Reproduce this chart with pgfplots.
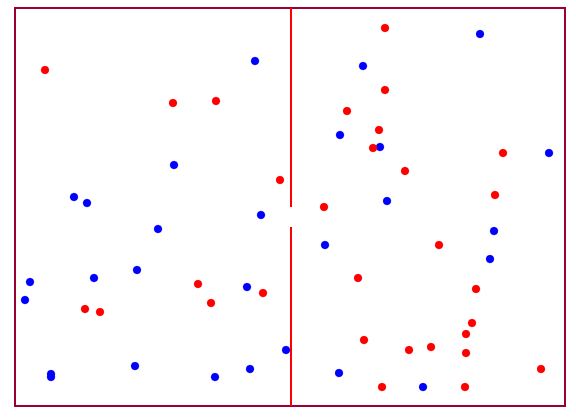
\documentclass[border=0pt]{standalone}
\usepackage{pgfplots}
\pgfplotsset{compat=1.18}
\definecolor{framecol}{RGB}{153,0,51}
\definecolor{dotred}{RGB}{255,0,0}
\definecolor{dotblue}{RGB}{0,0,255}

\begin{document}
\begin{tikzpicture}[x=1bp,y=1bp]
\begin{axis}[
  at={(15bp,13bp)}, anchor=south west,
  width=550bp, height=398bp,
  scale only axis,
  xmin=15, xmax=565,
  ymin=8, ymax=406,
  y dir=reverse,
  xtick=\empty, ytick=\empty,
  axis line style={framecol, line width=2bp},
  clip=false,
]

% bounding box of the whole picture
\path (axis cs:0,0) rectangle (axis cs:576,419);

% divider with a gap
\addplot[dotred, line width=2bp, mark=none] coordinates {(291,8) (291,207)};
\addplot[dotred, line width=2bp, mark=none] coordinates {(291,227) (291,406)};

% blue points
\addplot[only marks, mark=*, mark size=4bp, dotblue, mark options={draw=dotblue, fill=dotblue}] coordinates {
  (255,61) (174,165) (74,197) (87,203)
  (480,34) (363,66) (340,135) (380,147) (549,153) (387,201)
  (158,229) (261,215) (137,270) (30,282) (94,278) (25,300) (247,287)
  (286,350) (51,374) (51,377) (135,366) (215,377) (250,369)
  (494,231) (325,245) (490,259) (339,373) (423,387)
};

% red points
\addplot[only marks, mark=*, mark size=4bp, dotred, mark options={draw=dotred, fill=dotred}] coordinates {
  (45,70) (173,103) (216,101) (280,180)
  (385,28) (385,90) (347,111) (379,130) (373,148) (503,153) (405,171) (495,195) (324,207)
  (198,284) (211,303) (263,293) (85,309) (100,312)
  (439,245) (358,278) (476,289) (472,323) (466,334) (364,340) (409,350)
  (431,347) (466,353) (541,369) (382,387) (465,387)
};

\end{axis}
\end{tikzpicture}
\end{document}
